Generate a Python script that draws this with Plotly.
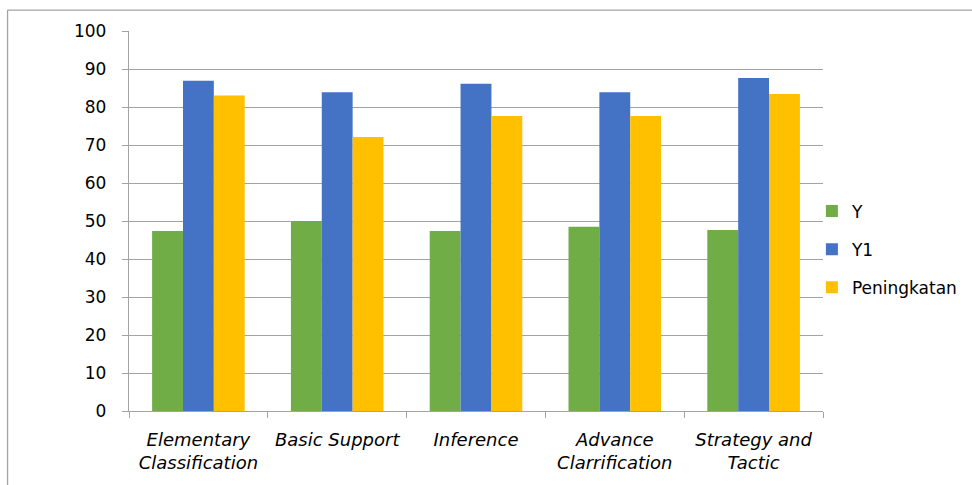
import plotly.graph_objects as go

categories = ["Elementary<br>Classification", "Basic Support", "Inference",
              "Advance<br>Clarrification", "Strategy and<br>Tactic"]
y_vals = [47.4, 50.0, 47.4, 48.5, 47.6]
y1_vals = [86.9, 83.9, 86.1, 83.9, 87.6]
peningkatan_vals = [83.0, 72.1, 77.6, 77.6, 83.4]

series_names = ["Y", "Y1", "Peningkatan"]
series_colors = ["#70AD47", "#4472C4", "#FFC000"]
y_ticks = list(range(0, 101, 10))

FONT = "DejaVu Sans"
GRID = "#a3a3a3"

fig = go.Figure()
for name, vals, col in zip(series_names, [y_vals, y1_vals, peningkatan_vals], series_colors):
    fig.add_trace(go.Bar(x=categories, y=vals, name=name, marker_color=col,
                         marker_line_width=0, legendgroup=name))

fig.update_layout(
    width=972, height=485,
    margin=dict(l=129, r=149, t=31, b=74, pad=0, autoexpand=False),
    paper_bgcolor="white", plot_bgcolor="white",
    barmode="group", bargap=0.333, bargroupgap=0,
    font=dict(family=FONT, size=17, color="#000000"),
    legend=dict(x=0.984, xanchor="left", y=0.425, yanchor="middle",
                font=dict(family=FONT, size=17, color="#000000"),
                tracegroupgap=13, bgcolor="rgba(0,0,0,0)"),
    xaxis=dict(showline=True, linecolor=GRID, linewidth=1.3,
               ticks="outside", ticklen=6, tickcolor=GRID, tickwidth=1.3,
               tickson="boundaries", showgrid=False, tickangle=0, automargin=False,
               tickfont=dict(family=FONT, size=18, style="italic"),
               ticklabelstandoff=12),
    yaxis=dict(range=[0, 100], tickvals=y_ticks, showline=True, linecolor=GRID,
               linewidth=1.3, ticks="outside", ticklen=6, tickcolor=GRID, tickwidth=1.3,
               showgrid=True, gridcolor=GRID, gridwidth=1.3, zeroline=False,
               automargin=False,
               tickfont=dict(family=FONT, size=17), ticklabelstandoff=12),
    shapes=[
        dict(type="line", xref="paper", yref="paper", x0=-0.175, x1=1.3, y0=1.055, y1=1.055,
             line=dict(color=GRID, width=1.3)),
        dict(type="line", xref="paper", yref="paper", x0=-0.175, x1=-0.175, y0=1.055, y1=-0.3,
             line=dict(color=GRID, width=1.3)),
    ],
)

fig.write_html("out.html")
